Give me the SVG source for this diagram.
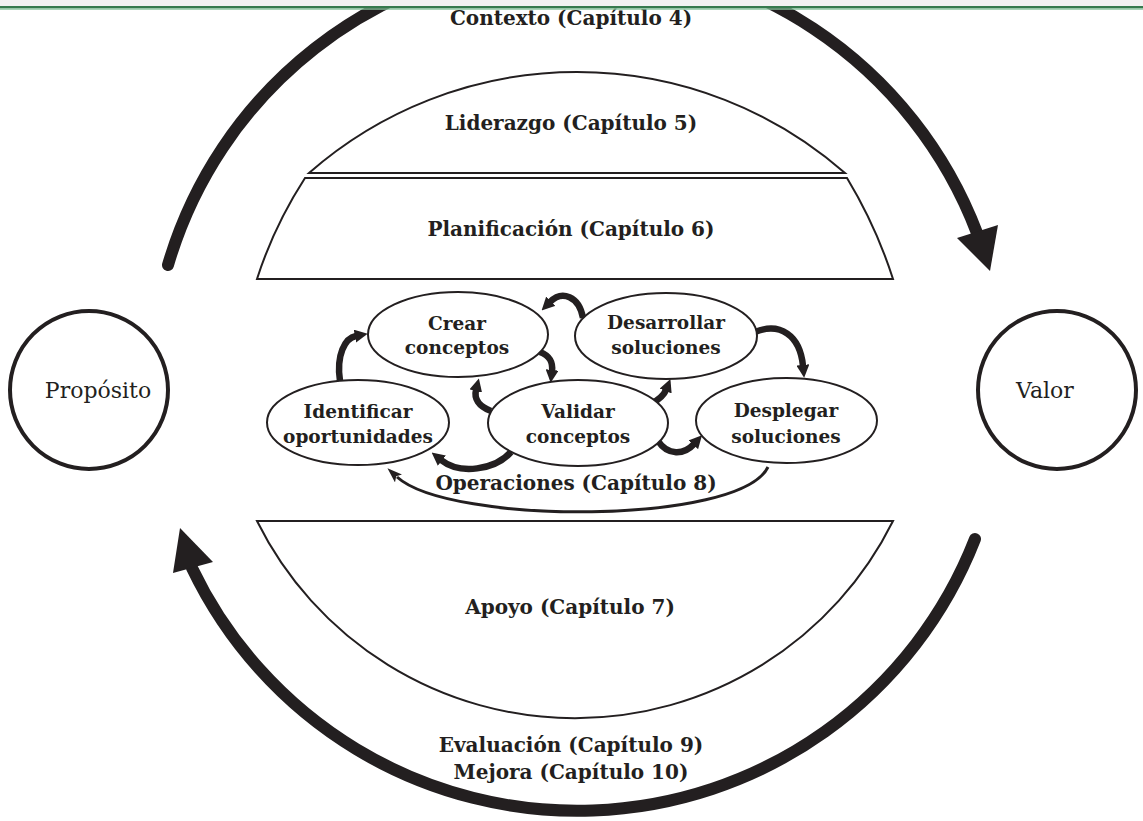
<svg xmlns="http://www.w3.org/2000/svg" width="1143" height="821" viewBox="0 0 1143 821">
<style>
.lbl{font-family:"DejaVu Serif","Liberation Serif",serif;font-weight:bold;font-size:20px;fill:#231f20;text-anchor:middle}
.el{font-family:"DejaVu Serif","Liberation Serif",serif;font-weight:bold;font-size:18.5px;fill:#231f20;text-anchor:middle}
.reg{font-family:"DejaVu Serif","Liberation Serif",serif;font-size:22px;fill:#231f20;text-anchor:middle}
.shape{fill:#fff;stroke:#231f20;stroke-width:2}
.node{fill:#fff;stroke:#231f20;stroke-width:2}
.big{fill:none;stroke:#231f20;stroke-width:12}
.small{fill:none;stroke:#231f20;stroke-width:6.5}
.thin{fill:none;stroke:#231f20;stroke-width:3}
</style>
<defs>
<marker id="ah" viewBox="0 0 12 12" refX="1" refY="6" markerWidth="13" markerHeight="13" markerUnits="userSpaceOnUse" orient="auto">
<path d="M0,0 L12,6 L0,12 z" fill="#231f20"/>
</marker>
<marker id="ahThin" viewBox="0 0 14 10" refX="2" refY="5" markerWidth="15" markerHeight="11" markerUnits="userSpaceOnUse" orient="auto">
<path d="M0,0 L14,5 L0,10 L3,5 z" fill="#231f20"/>
</marker>
</defs>
<rect width="1143" height="821" fill="#fff"/>

<g id="connectors">
<path class="big" d="M168,265 A427,427 0 0,1 977,233" stroke-linecap="round"/>
<polygon points="990,271 957,238 998,225" fill="#231f20"/>
<path class="big" d="M975,539 A427,427 0 0,1 192,568" stroke-linecap="round"/>
<polygon points="180,528 173,573 213,562" fill="#231f20"/>
<path class="small" d="M340,381 C336,355 345,338 356,336" marker-end="url(#ah)"/>
<path class="small" d="M540,352 C550,356 553,362 552,371" marker-end="url(#ah)"/>
<path class="small" d="M491,411 C478,406 474,398 476,390" marker-end="url(#ah)"/>
<path class="small" d="M511,452 C495,470 460,475 441,460" marker-end="url(#ah)"/>
<path class="small" d="M651,404 C660,399 664,395 666,390" marker-end="url(#ah)"/>
<path class="small" d="M583,318 C579,296 562,290 550,302" marker-end="url(#ah)"/>
<path class="small" d="M755,332 C780,322 800,335 803,366" marker-end="url(#ah)"/>
<path class="small" d="M658,441 C668,456 684,455 694,444" marker-end="url(#ah)"/>
<path class="thin" d="M768,467 C740,525 450,525 397,477" marker-end="url(#ahThin)"/>
</g>

<g id="proposito">
<circle cx="89" cy="390" r="79" fill="#fff" stroke="#231f20" stroke-width="4"/>
<text class="reg" x="98" y="398">Propósito</text>
</g>
<g id="valor">
<circle cx="1057" cy="390" r="79" fill="#fff" stroke="#231f20" stroke-width="4"/>
<text class="reg" x="1045" y="398">Valor</text>
</g>

<g id="contexto">
<text class="lbl" x="571" y="25">Contexto (Capítulo 4)</text>
</g>
<g id="liderazgo">
<path class="shape" d="M309,173 A406,406 0 0,1 845,173 Z"/>
<text class="lbl" x="571" y="130">Liderazgo (Capítulo 5)</text>
</g>
<g id="planificacion">
<path class="shape" d="M305,178 L847,178 Q876,226 893,279 L257,279 Q274,226 305,178 Z"/>
<text class="lbl" x="571" y="236">Planificación (Capítulo 6)</text>
</g>
<g id="operaciones">
<text class="lbl" x="576" y="490">Operaciones (Capítulo 8)</text>
</g>
<g id="apoyo">
<path class="shape" d="M257,521 L893,521 A355,355 0 0,1 257,521 Z"/>
<text class="lbl" x="570" y="614">Apoyo (Capítulo 7)</text>
</g>
<g id="evaluacion">
<text class="lbl" x="571" y="752">Evaluación (Capítulo 9)</text>
<text class="lbl" x="571" y="779">Mejora (Capítulo 10)</text>
</g>

<g id="crear">
<ellipse class="node" cx="458" cy="334.5" rx="90" ry="42.5"/>
<text class="el" x="457" y="330">Crear</text>
<text class="el" x="457" y="354">conceptos</text>
</g>
<g id="identificar">
<ellipse class="node" cx="358" cy="422.5" rx="91" ry="42.5"/>
<text class="el" x="358" y="418">Identificar</text>
<text class="el" x="358" y="443">oportunidades</text>
</g>
<g id="validar">
<ellipse class="node" cx="578" cy="423" rx="90" ry="43"/>
<text class="el" x="578" y="418">Validar</text>
<text class="el" x="578" y="443">conceptos</text>
</g>
<g id="desarrollar">
<ellipse class="node" cx="666" cy="336" rx="91" ry="43"/>
<text class="el" x="666" y="329">Desarrollar</text>
<text class="el" x="666" y="354">soluciones</text>
</g>
<g id="desplegar">
<ellipse class="node" cx="786.5" cy="420.5" rx="90.5" ry="42.5"/>
<text class="el" x="786" y="417">Desplegar</text>
<text class="el" x="786" y="443">soluciones</text>
</g>

<g id="band">
<rect x="0" y="0" width="1143" height="6" fill="#f2f2f2"/>
<rect x="0" y="6" width="1143" height="2.4" fill="#367a4e"/>
<rect x="0" y="8.4" width="1143" height="1.3" fill="#85c29b"/>
</g>
</svg>
